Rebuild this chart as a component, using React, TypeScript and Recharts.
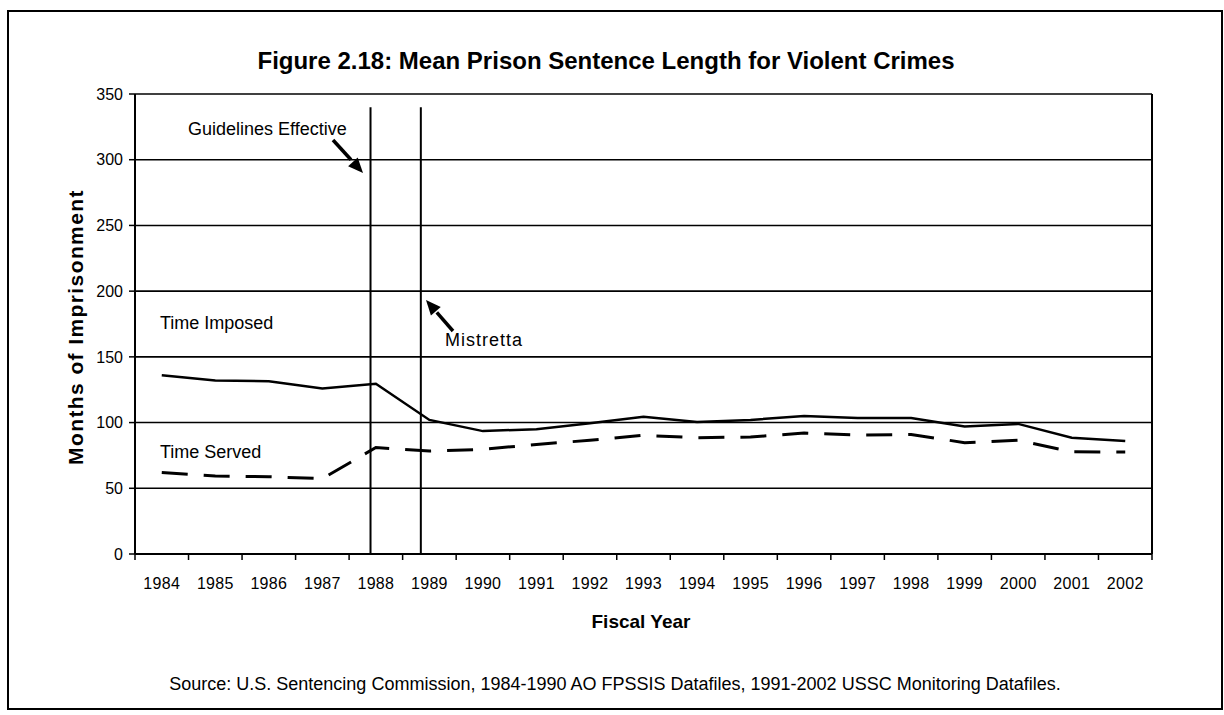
import React from 'react';
import { LineChart, Line, XAxis, YAxis, CartesianGrid, ReferenceLine } from 'recharts';

const years = [1984, 1985, 1986, 1987, 1988, 1989, 1990, 1991, 1992, 1993, 1994, 1995, 1996, 1997, 1998, 1999, 2000, 2001, 2002];
const timeImposed = [136, 132, 131.5, 126, 129.5, 102, 93.5, 95, 99.5, 104.5, 100.5, 102, 105, 103.5, 103.5, 97, 99, 88.5, 86];
const timeServed = [62, 59.3, 58.8, 57.3, 81, 78.4, 79.6, 83.4, 86.5, 90.3, 88.5, 89, 92, 90.5, 91, 84.7, 86.5, 77.8, 77.6];
const yTicks = [0, 50, 100, 150, 200, 250, 300, 350];
const guidelinesX = 1987.9;
const mistrettaX = 1988.84;
const eventLineTop = 340;

const data = years.map((y, i) => ({ year: y, imposed: timeImposed[i], served: timeServed[i] }));
const boundaryTicks = [...years.map((y) => y - 0.5), years[years.length - 1] + 0.5];

const W = 1224;
const H = 715;
const MARGIN = { top: 94, right: 72, left: 0, bottom: 131 };
const Y_AXIS_W = 135;
const X_AXIS_H = 30;
const PLOT_W = W - MARGIN.left - MARGIN.right - Y_AXIS_W;
const HALF_BAND = PLOT_W / years.length / 2;
const FONT = '"Liberation Sans", Arial, Helvetica, sans-serif';

const XTick = (props: any) => {
  const { x, y, payload } = props;
  if (payload.value > years[years.length - 1]) return null;
  return (
    <text x={x + HALF_BAND} y={y + 21} textAnchor="middle" dominantBaseline="central" fontSize={16} letterSpacing={0.3} fontFamily={FONT} fill="#000">
      {String(payload.value + 0.5)}
    </text>
  );
};

function arrowHead(x1: number, y1: number, x2: number, y2: number, len = 15, half = 6.5) {
  const dx = x2 - x1;
  const dy = y2 - y1;
  const d = Math.hypot(dx, dy);
  const ux = dx / d;
  const uy = dy / d;
  const bx = x2 - ux * len;
  const by = y2 - uy * len;
  const px = -uy * half;
  const py = ux * half;
  return `${x2},${y2} ${bx + px},${by + py} ${bx - px},${by - py}`;
}

export default function App() {
  const g1 = [333, 140, 363, 173];
  const g2 = [453, 331, 426, 300];
  return (
    <div style={{ position: 'absolute', left: 0, top: 0, width: W, height: H, background: '#fff' }}>
      <LineChart width={W} height={H} data={data} margin={MARGIN}>
        <CartesianGrid horizontal vertical={false} stroke="#000" strokeWidth={1.6} strokeOpacity={1} />
        <XAxis
          dataKey="year"
          type="number"
          domain={[boundaryTicks[0], boundaryTicks[boundaryTicks.length - 1]]}
          ticks={boundaryTicks}
          interval={0}
          height={X_AXIS_H}
          tick={<XTick />}
          tickSize={6}
          tickMargin={2}
          axisLine={{ stroke: '#000', strokeWidth: 2 }}
          tickLine={{ stroke: '#000', strokeWidth: 1.5 }}
          allowDataOverflow
        />
        <YAxis
          type="number"
          domain={[0, 350]}
          ticks={yTicks}
          interval={0}
          width={Y_AXIS_W}
          tickSize={6}
          tickMargin={6}
          axisLine={{ stroke: '#000', strokeWidth: 2 }}
          tickLine={{ stroke: '#000', strokeWidth: 1.5 }}
          tick={{ fill: '#000', fontSize: 16, fontFamily: FONT }}
        />
        <ReferenceLine x={boundaryTicks[boundaryTicks.length - 1]} stroke="#000" strokeWidth={2} />
        <ReferenceLine
          segment={[{ x: guidelinesX, y: 0 }, { x: guidelinesX, y: eventLineTop }]}
          stroke="#000"
          strokeWidth={2}
        />
        <ReferenceLine
          segment={[{ x: mistrettaX, y: 0 }, { x: mistrettaX, y: eventLineTop }]}
          stroke="#000"
          strokeWidth={2}
        />
        <Line type="linear" dataKey="imposed" stroke="#000" strokeWidth={2.5} dot={false} isAnimationActive={false} />
        <Line type="linear" dataKey="served" stroke="#000" strokeWidth={3} strokeDasharray="26 16" dot={false} isAnimationActive={false} />
      </LineChart>
      <svg width={W} height={H} style={{ position: 'absolute', left: 0, top: 0, pointerEvents: 'none' }}>
        <rect x={8} y={11} width={1214} height={698} fill="none" stroke="#000" strokeWidth={2} />
        <text x={606} y={60} textAnchor="middle" dominantBaseline="central" fontSize={24} fontWeight="bold" fontFamily={FONT} fill="#000">
          Figure 2.18: Mean Prison Sentence Length for Violent Crimes
        </text>
        <text
          x={75}
          y={327}
          transform="rotate(-90 75 327)"
          textAnchor="middle"
          dominantBaseline="central"
          fontSize={21}
          fontWeight="bold"
          letterSpacing={1.4}
          fontFamily={FONT}
          fill="#000"
        >
          Months of Imprisonment
        </text>
        <text x={641} y={621} textAnchor="middle" dominantBaseline="central" fontSize={19} fontWeight="bold" fontFamily={FONT} fill="#000">
          Fiscal Year
        </text>
        <text x={615} y={684} textAnchor="middle" dominantBaseline="central" fontSize={18} fontFamily={FONT} fill="#000">
          Source: U.S. Sentencing Commission, 1984-1990 AO FPSSIS Datafiles, 1991-2002 USSC Monitoring Datafiles.
        </text>
        <text x={188} y={129} dominantBaseline="central" fontSize={18} fontFamily={FONT} fill="#000">
          Guidelines Effective
        </text>
        <line x1={g1[0]} y1={g1[1]} x2={g1[0] + (g1[2] - g1[0]) * 0.6} y2={g1[1] + (g1[3] - g1[1]) * 0.6} stroke="#000" strokeWidth={3.5} />
        <polygon points={arrowHead(g1[0], g1[1], g1[2], g1[3])} fill="#000" />
        <text x={160} y={323} dominantBaseline="central" fontSize={18} fontFamily={FONT} fill="#000">
          Time Imposed
        </text>
        <text x={445} y={340} dominantBaseline="central" fontSize={18} letterSpacing={1} fontFamily={FONT} fill="#000">
          Mistretta
        </text>
        <line x1={g2[0]} y1={g2[1]} x2={g2[0] + (g2[2] - g2[0]) * 0.6} y2={g2[1] + (g2[3] - g2[1]) * 0.6} stroke="#000" strokeWidth={3.5} />
        <polygon points={arrowHead(g2[0], g2[1], g2[2], g2[3])} fill="#000" />
        <text x={160} y={452} dominantBaseline="central" fontSize={18} fontFamily={FONT} fill="#000">
          Time Served
        </text>
      </svg>
    </div>
  );
}
